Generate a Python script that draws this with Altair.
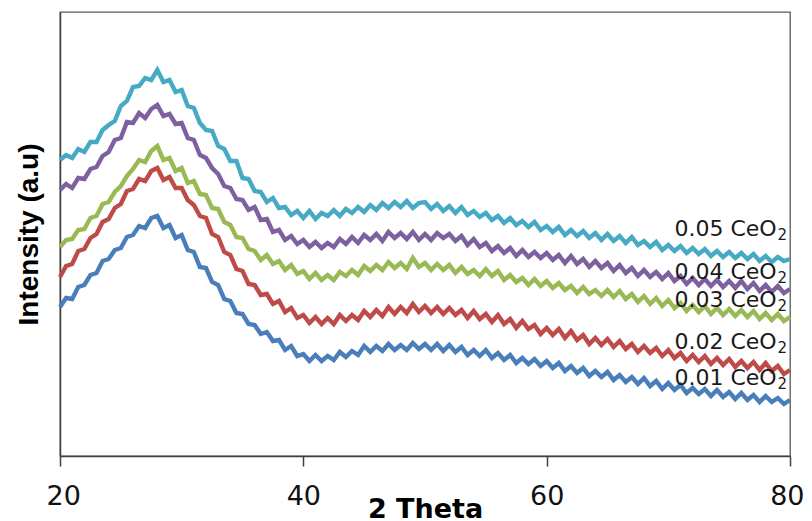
import altair as alt
import pandas as pd

# 2-theta sampling positions (degrees), 0.5 deg steps from 20 to 80
two_theta = [20 + 0.5 * i for i in range(121)]

# Intensities (arbitrary units)
ceo2_001 = [
    149, 158, 157, 169, 171, 181, 183, 195, 197, 206, 208, 219, 221, 230, 228, 238,
    240, 228, 231, 218, 221, 206, 204, 189, 188, 174, 171, 157, 155, 143, 142, 132,
    131, 122, 124, 115, 116, 106, 110, 100, 102, 95, 101, 95, 100, 96, 104, 99,
    105, 101, 110, 104, 110, 105, 112, 106, 111, 106, 113, 107, 112, 106, 112, 105,
    111, 104, 109, 101, 106, 100, 106, 98, 103, 96, 101, 93, 98, 92, 97, 90,
    95, 88, 93, 85, 90, 83, 88, 80, 85, 79, 84, 76, 81, 74, 79, 72,
    78, 70, 75, 67, 73, 66, 71, 63, 68, 62, 67, 60, 66, 59, 64, 57,
    63, 56, 61, 54, 60, 54, 58, 52, 56,
]
ceo2_002 = [
    179, 190, 192, 205, 207, 218, 222, 234, 237, 248, 252, 265, 267, 277, 275, 285,
    288, 276, 279, 268, 268, 256, 251, 240, 238, 222, 219, 204, 201, 187, 185, 172,
    171, 161, 162, 152, 155, 144, 148, 138, 141, 133, 139, 132, 138, 132, 141, 135,
    141, 136, 145, 139, 146, 140, 149, 142, 149, 143, 152, 144, 150, 143, 149, 142,
    148, 141, 146, 138, 145, 137, 142, 134, 141, 132, 137, 128, 135, 127, 131, 122,
    128, 121, 127, 118, 125, 116, 121, 112, 118, 111, 117, 109, 115, 107, 112, 104,
    110, 103, 108, 100, 106, 98, 103, 95, 101, 94, 100, 92, 98, 91, 97, 89,
    95, 88, 94, 86, 93, 85, 90, 82, 86,
]
ceo2_003 = [
    209, 216, 217, 226, 227, 238, 240, 252, 254, 264, 270, 280, 287, 296, 294, 305,
    310, 296, 298, 285, 288, 273, 275, 262, 261, 248, 247, 234, 231, 219, 218, 207,
    205, 196, 201, 192, 195, 186, 191, 182, 185, 177, 183, 176, 181, 176, 184, 180,
    186, 181, 190, 185, 191, 186, 194, 188, 193, 187, 198, 189, 193, 186, 192, 186,
    191, 183, 189, 182, 186, 180, 187, 180, 185, 176, 181, 174, 178, 171, 177, 170,
    175, 168, 173, 166, 170, 163, 169, 162, 166, 160, 166, 159, 165, 157, 162, 154,
    160, 152, 158, 150, 156, 148, 153, 145, 151, 144, 150, 142, 148, 141, 147, 140,
    146, 139, 145, 137, 143, 136, 142, 135, 139,
]
ceo2_004 = [
    266, 272, 268, 278, 277, 287, 289, 300, 304, 316, 318, 334, 333, 343, 338, 347,
    351, 340, 342, 332, 333, 318, 316, 301, 298, 288, 282, 270, 268, 257, 256, 246,
    249, 236, 237, 224, 226, 216, 220, 212, 216, 209, 214, 208, 213, 209, 217, 212,
    219, 213, 221, 216, 222, 215, 224, 218, 223, 217, 224, 216, 222, 216, 223, 218,
    222, 215, 220, 211, 217, 209, 213, 205, 210, 203, 208, 200, 206, 199, 204, 198,
    203, 196, 201, 193, 200, 192, 197, 189, 195, 188, 193, 185, 191, 183, 188, 180,
    186, 179, 184, 177, 183, 175, 180, 172, 178, 171, 177, 170, 176, 169, 175, 168,
    175, 167, 173, 165, 171, 164, 170, 163, 167,
]
ceo2_005 = [
    296, 301, 298, 307, 304, 314, 314, 326, 331, 335, 350, 355, 369, 370, 378, 376,
    386, 374, 376, 364, 366, 350, 348, 333, 326, 325, 310, 307, 295, 295, 278, 277,
    265, 264, 254, 258, 248, 249, 241, 245, 238, 245, 237, 243, 240, 246, 240, 247,
    243, 249, 244, 251, 246, 253, 248, 254, 249, 255, 248, 253, 254, 247, 252, 245,
    250, 243, 249, 241, 245, 239, 243, 236, 240, 233, 238, 231, 235, 229, 234, 226,
    230, 224, 229, 221, 226, 220, 225, 218, 223, 216, 222, 215, 220, 213, 219, 211,
    215, 209, 214, 206, 211, 205, 210, 203, 208, 202, 207, 200, 205, 199, 204, 198,
    203, 197, 202, 195, 200, 194, 199, 195, 197,
]

series_names = ["0.01 CeO₂", "0.02 CeO₂", "0.03 CeO₂", "0.04 CeO₂", "0.05 CeO₂"]
label_main = ["0.01 CeO", "0.02 CeO", "0.03 CeO", "0.04 CeO", "0.05 CeO"]
label_sub = ["2", "2", "2", "2", "2"]
series_values = [ceo2_001, ceo2_002, ceo2_003, ceo2_004, ceo2_005]
series_colors = ["#4a7ebb", "#be4b48", "#98b954", "#7d60a0", "#46aac5"]

# curve labels, in data units (main text right-anchored, subscript left-anchored)
label_x = [78.9, 78.9, 78.9, 78.9, 78.9]
label_y = [78, 114, 156, 184, 227]

x_ticks = [20, 40, 60, 80]

rows = []
for name, vals in zip(series_names, series_values):
    for t, v in zip(two_theta, vals):
        rows.append({"theta": t, "intensity": v, "series": name})
df = pd.DataFrame(rows)

lab_df = pd.DataFrame(
    {"x": label_x, "y": label_y, "main": label_main, "sub": label_sub}
)

x_enc = alt.X(
    "theta:Q",
    scale=alt.Scale(domain=[20, 80], nice=False, zero=False),
    axis=alt.Axis(
        values=x_ticks,
        title="2 Theta",
        format="d",
        labelFont="DejaVu Sans",
        labelFontSize=27,
        labelColor="#111111",
        labelPadding=17,
        labelBaseline="top",
        labelFlush=True,
        labelFlushOffset=14,
        labelOverlap=False,
        labelBound=False,
        tickSize=10,
        tickColor="#404040",
        tickWidth=1.5,
        domainColor="#404040",
        domainWidth=1.5,
        grid=False,
        titleFont="DejaVu Sans",
        titleFontSize=27,
        titleFontWeight="bold",
        titleColor="#000000",
        titleBaseline="alphabetic",
        titleY=61,
    ),
)
y_enc = alt.Y(
    "intensity:Q",
    scale=alt.Scale(domain=[0, 444], nice=False, zero=False),
    axis=alt.Axis(
        title="Intensity (a.u)",
        labels=False,
        ticks=False,
        grid=False,
        domainColor="#404040",
        domainWidth=1.5,
        titleFont="Liberation Sans",
        titleFontSize=28,
        titleFontWeight="bold",
        titleColor="#000000",
        titleBaseline="alphabetic",
        titlePadding=23,
    ),
)

lines = alt.Chart(df).mark_line(strokeWidth=4.4, strokeJoin="miter").encode(
    x=x_enc,
    y=y_enc,
    color=alt.Color(
        "series:N",
        scale=alt.Scale(domain=series_names, range=series_colors),
        legend=None,
    ),
)

labels_main = alt.Chart(lab_df).mark_text(
    align="right", baseline="middle", font="DejaVu Sans", fontSize=22, color="#1a1a1a"
).encode(
    x=alt.X("x:Q"),
    y=alt.Y("y:Q"),
    text="main:N",
)

labels_sub = alt.Chart(lab_df).mark_text(
    align="left", baseline="middle", font="DejaVu Sans", fontSize=15, color="#1a1a1a",
    dx=1, dy=6,
).encode(
    x=alt.X("x:Q"),
    y=alt.Y("y:Q"),
    text="sub:N",
)

chart = (
    alt.layer(lines, labels_main, labels_sub)
    .properties(
        width=730,
        height=444,
        padding={"left": 52, "top": 4, "right": 14, "bottom": 65},
        autosize=alt.AutoSizeParams(type="none"),
    )
    .configure_view(stroke="#595959", strokeWidth=1.3)
)

chart.save("out.html", embed_options={"renderer": "svg", "actions": False})
